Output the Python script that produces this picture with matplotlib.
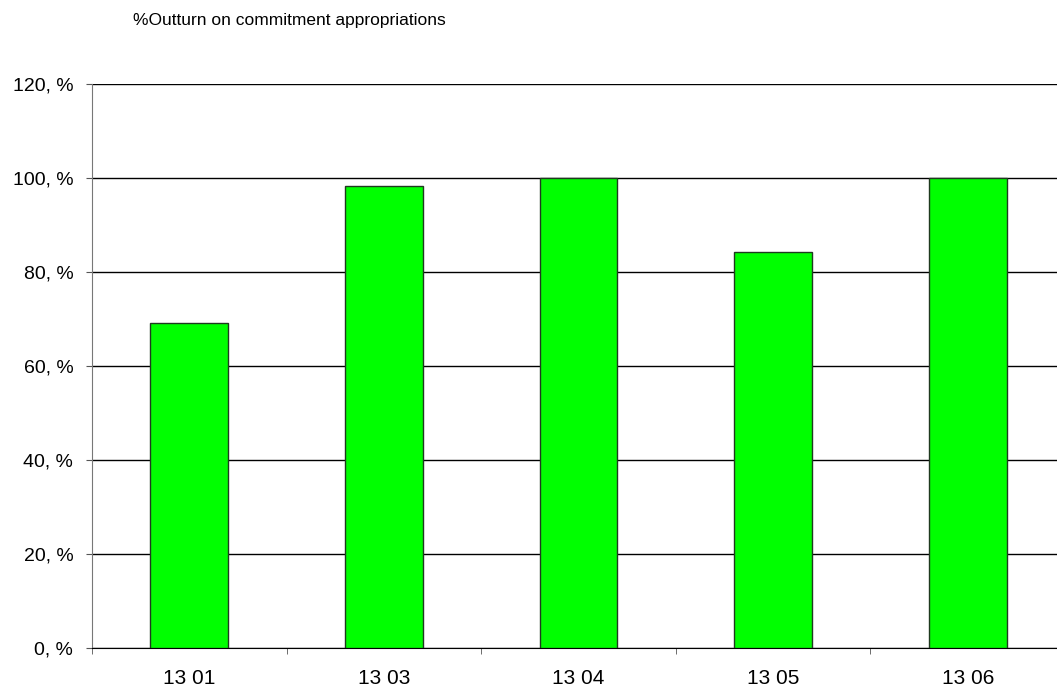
import matplotlib
matplotlib.use("Agg")
import matplotlib.pyplot as plt
from matplotlib.ticker import FuncFormatter

categories = ["13 01", "13 03", "13 04", "13 05", "13 06"]
outturn = [69.3, 98.3, 100.0, 84.3, 100.0]
yticks = [0, 20, 40, 60, 80, 100, 120]

plt.rcParams["font.family"] = ["Liberation Sans", "DejaVu Sans"]

W, H = 1057, 691
fig = plt.figure(figsize=(W / 100, H / 100), dpi=100)
# plot area runs past the right edge of the picture, like the original
left, right, bottom, top = 92, 1065, 648.3, 84.3
ax = fig.add_axes([left / W, 1 - bottom / H, (right - left) / W, (bottom - top) / H])

x = range(len(categories))
ax.bar(x, outturn, width=0.40, color="#00ff00", edgecolor="#1f3a1f", linewidth=1, zorder=3)

ax.set_xlim(-0.5, len(categories) - 0.5)
ax.set_ylim(0, 120)
ax.set_yticks(yticks)
ax.yaxis.set_major_formatter(FuncFormatter(lambda v, p: f"{int(v)}, %"))
ax.set_xticks(list(x))
ax.set_xticklabels(categories)
ax.set_xticks([i - 0.5 for i in range(len(categories) + 1)], minor=True)
ax.tick_params(axis="x", which="major", length=0, pad=15, labelsize=15)
ax.tick_params(axis="x", which="minor", length=4.5, direction="out", color="#555555")
ax.tick_params(axis="y", length=4.5, direction="out", color="#555555", labelsize=14, pad=9)

ax.grid(axis="y", color="black", linewidth=1, zorder=0)
for s in ["top", "right"]:
    ax.spines[s].set_visible(False)
ax.spines["left"].set_color("#777777")
ax.spines["bottom"].set_color("black")

fig.text(133 / W, 1 - 25 / H, "%Outturn on commitment appropriations",
         fontsize=12.5, va="baseline", ha="left")

fig.savefig("out.png", dpi=100)
